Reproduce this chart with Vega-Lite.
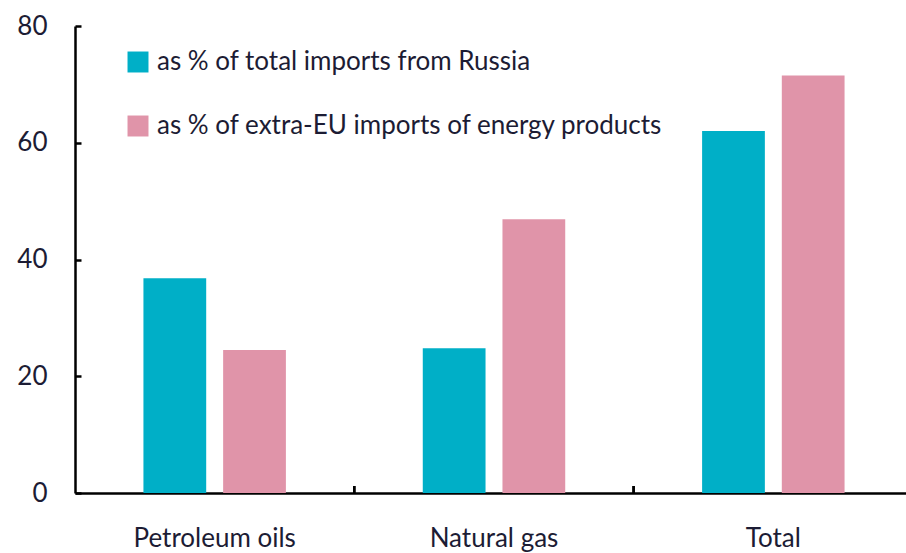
{
  "$schema": "https://vega.github.io/schema/vega-lite/v6.json",
  "width": 838,
  "height": 467,
  "autosize": {"type": "none"},
  "padding": {"left": 75, "top": 26, "right": 0, "bottom": 60},
  "background": "white",
  "config": {"view": {"stroke": null}, "font": "Lato"},
  "data": {"values": [
    {"category": "Petroleum oils", "series": "as % of total imports from Russia", "value": 36.8},
    {"category": "Petroleum oils", "series": "as % of extra-EU imports of energy products", "value": 24.5},
    {"category": "Natural gas", "series": "as % of total imports from Russia", "value": 24.8},
    {"category": "Natural gas", "series": "as % of extra-EU imports of energy products", "value": 46.9},
    {"category": "Total", "series": "as % of total imports from Russia", "value": 62.0},
    {"category": "Total", "series": "as % of extra-EU imports of energy products", "value": 71.5}
  ]},
  "encoding": {
    "x": {
      "field": "category", "type": "nominal", "sort": ["Petroleum oils", "Natural gas", "Total"],
      "scale": {"paddingInner": 0.49, "paddingOuter": 0.245},
      "axis": {"title": null, "labelAngle": 0, "labelFontSize": 26, "labelColor": "#1c1c34", "labelPadding": 32,
               "domainColor": "black", "domainWidth": 2.5, "ticks": false, "tickSize": 0, "labelFont": "Lato"}
    }
  },
  "layer": [
    {
      "mark": {"type": "bar"},
      "encoding": {
        "xOffset": {
          "field": "series", "type": "nominal",
          "sort": ["as % of total imports from Russia", "as % of extra-EU imports of energy products"],
          "scale": {"paddingInner": 0.2125, "paddingOuter": 0}
        },
        "y": {
          "field": "value", "type": "quantitative",
          "scale": {"domain": [0, 80], "nice": false},
          "axis": {"title": null, "values": [0, 20, 40, 60, 80], "grid": false, "labelFontSize": 26, "labelColor": "#1c1c34",
                   "labelPadding": 34, "domainColor": "black", "domainWidth": 2.5, "tickColor": "black", "tickWidth": 2.5,
                   "tickSize": -6, "labelFont": "Lato"}
        },
        "color": {
          "field": "series", "type": "nominal",
          "sort": ["as % of total imports from Russia", "as % of extra-EU imports of energy products"],
          "scale": {"range": ["#00afc7", "#e094a9"]},
          "legend": {"title": null, "orient": "none", "legendX": 50, "legendY": 23, "symbolType": "square",
                     "symbolSize": 440, "symbolStrokeWidth": 0, "labelFontSize": 26, "labelColor": "#1c1c34",
                     "labelOffset": 6, "rowPadding": 38, "labelFont": "Lato", "labelLimit": 700}
        }
      }
    },
    {
      "mark": {"type": "rule", "color": "black", "strokeWidth": 2.5},
      "encoding": {
        "x": {"field": "category", "type": "nominal", "sort": ["Petroleum oils", "Natural gas", "Total"], "bandPosition": 1.48},
        "y": {"datum": 0},
        "y2": {"datum": 1.2}
      }
    }
  ]
}
